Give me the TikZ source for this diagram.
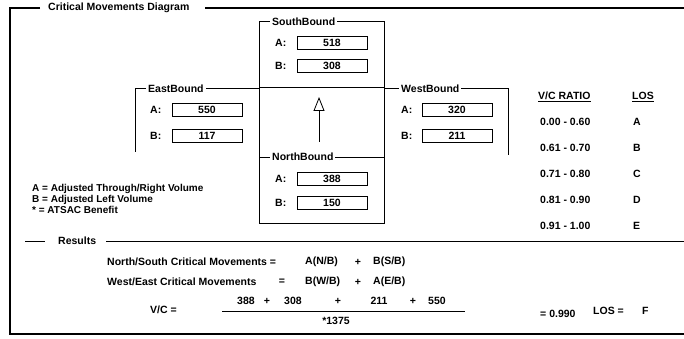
\documentclass[tikz,border=0pt]{standalone}
\usepackage{fontspec}
\setmainfont{Liberation Sans}
\usetikzlibrary{arrows.meta}
\begin{document}
\begin{tikzpicture}[x=1pt,y=-1pt,
  every node/.style={font=\bfseries\fontsize{10.5}{12}\selectfont, inner sep=0pt},
  frameline/.style={line width=1.2pt},
  boxline/.style={line width=1pt},
  fieldbox/.style={draw, line width=0.6pt, minimum width=70pt, minimum height=13pt},
  grouplabel/.style={fill=white, inner xsep=2pt, anchor=west},
  valtxt/.style={anchor=west},
  legtxt/.style={anchor=west, font=\bfseries\fontsize{10}{11}\selectfont}
]
\useasboundingbox (0,0) rectangle (684,339);
% outer frame
\node[anchor=west] (title) at (48,8) {Critical Movements Diagram};
\draw[frameline] (40,8) -- (10,8) -- (10,334) -- (684,334);
\draw[frameline] (205,8) -- (684,8);

% SouthBound
\draw[boxline] (259,22) rectangle (384,88);
\node[grouplabel] (sbl) at (270,22) {SouthBound};
\node[anchor=west] (sbA) at (275,43) {A:};
\node[fieldbox] (sbAf) at (332,43) {518};
\node[anchor=west] (sbB) at (275,66) {B:};
\node[fieldbox] (sbBf) at (332,66) {308};

% centre
\draw[boxline] (259,88) rectangle (384,157);
\coordinate (arrS) at (319,142);
\coordinate (arrE) at (319,97);
\draw[line width=0.8pt, -{Triangle[open, length=14pt, width=11pt, line width=0.8pt]}] (arrS) -- (arrE);

% EastBound
\draw[boxline] (135,152) -- (135,89) -- (259,89);
\node[grouplabel] (ebl) at (146,89) {EastBound};
\node[anchor=west] (ebA) at (150,110) {A:};
\node[fieldbox] (ebAf) at (207,110) {550};
\node[anchor=west] (ebB) at (150,136) {B:};
\node[fieldbox] (ebBf) at (207,136) {117};

% WestBound
\draw[boxline] (384,89) -- (508,89) -- (508,155);
\node[grouplabel] (wbl) at (399,89) {WestBound};
\node[anchor=west] (wbA) at (401,110) {A:};
\node[fieldbox] (wbAf) at (457,110) {320};
\node[anchor=west] (wbB) at (401,136) {B:};
\node[fieldbox] (wbBf) at (457,136) {211};

% NorthBound
\draw[boxline] (259,157) rectangle (384,223);
\node[grouplabel] (nbl) at (270,157) {NorthBound};
\node[anchor=west] (nbA) at (275,179) {A:};
\node[fieldbox] (nbAf) at (332,179) {388};
\node[anchor=west] (nbB) at (275,203) {B:};
\node[fieldbox] (nbBf) at (332,203) {150};

% legend
\node[legtxt] (lgA) at (32,189) {A = Adjusted Through/Right Volume};
\node[legtxt] (lgB) at (32,199.5) {B = Adjusted Left Volume};
\node[legtxt] (lgS) at (32,210) {* = ATSAC Benefit};

% V/C table
\node[anchor=west] (vch) at (538,97) {\underline{V/C RATIO}};
\node[anchor=west] (losh) at (632,97) {\underline{LOS}};
\node[valtxt] (r1) at (540,122) {0.00 - 0.60};
\node[valtxt] (r2) at (540,148) {0.61 - 0.70};
\node[valtxt] (r3) at (540,174) {0.71 - 0.80};
\node[valtxt] (r4) at (540,200) {0.81 - 0.90};
\node[valtxt] (r5) at (540,226) {0.91 - 1.00};
\node[valtxt] (l1) at (633,122) {A};
\node[valtxt] (l2) at (633,148) {B};
\node[valtxt] (l3) at (633,174) {C};
\node[valtxt] (l4) at (633,200) {D};
\node[valtxt] (l5) at (633,226) {E};

% Results
\node[anchor=west] (res) at (58,241) {Results};
\draw[boxline] (25,241) -- (45,241);
\draw[boxline] ([xshift=10pt]res.east) -- (684,241);

\node[anchor=west] (ns) at (107,262) {North/South Critical Movements =};
\node[anchor=west] (nsa) at (305,262) {A(N/B)};
\node (nsp) at (358,262) {+};
\node[anchor=west] (nsb) at (373,262) {B(S/B)};

\node[anchor=west] (we) at (107,282) {West/East Critical Movements};
\node (weq) at (282,282) {=};
\node[anchor=west] (wea) at (305,282) {B(W/B)};
\node (wep) at (358,282) {+};
\node[anchor=west] (web) at (373,282) {A(E/B)};

\node[anchor=west] (vc) at (150,310) {V/C =};
\node (n1) at (246,301) {388};
\node (p1) at (267,301) {+};
\node (n2) at (293,301) {308};
\node (p2) at (338,301) {+};
\node (n3) at (379,301) {211};
\node (p3) at (413,301) {+};
\node (n4) at (437,301) {550};
\coordinate (fracL) at (222,311);
\coordinate (fracR) at (465,311);
\draw[line width=0.8pt] (fracL) -- (fracR);
\node (den) at (336,321) {*1375};
\node[anchor=west] (res1) at (540,314) {= 0.990};
\node[anchor=west] (losr) at (593,311) {LOS =};
\node[anchor=west] (losv) at (642,311) {F};
\end{tikzpicture}
\end{document}
